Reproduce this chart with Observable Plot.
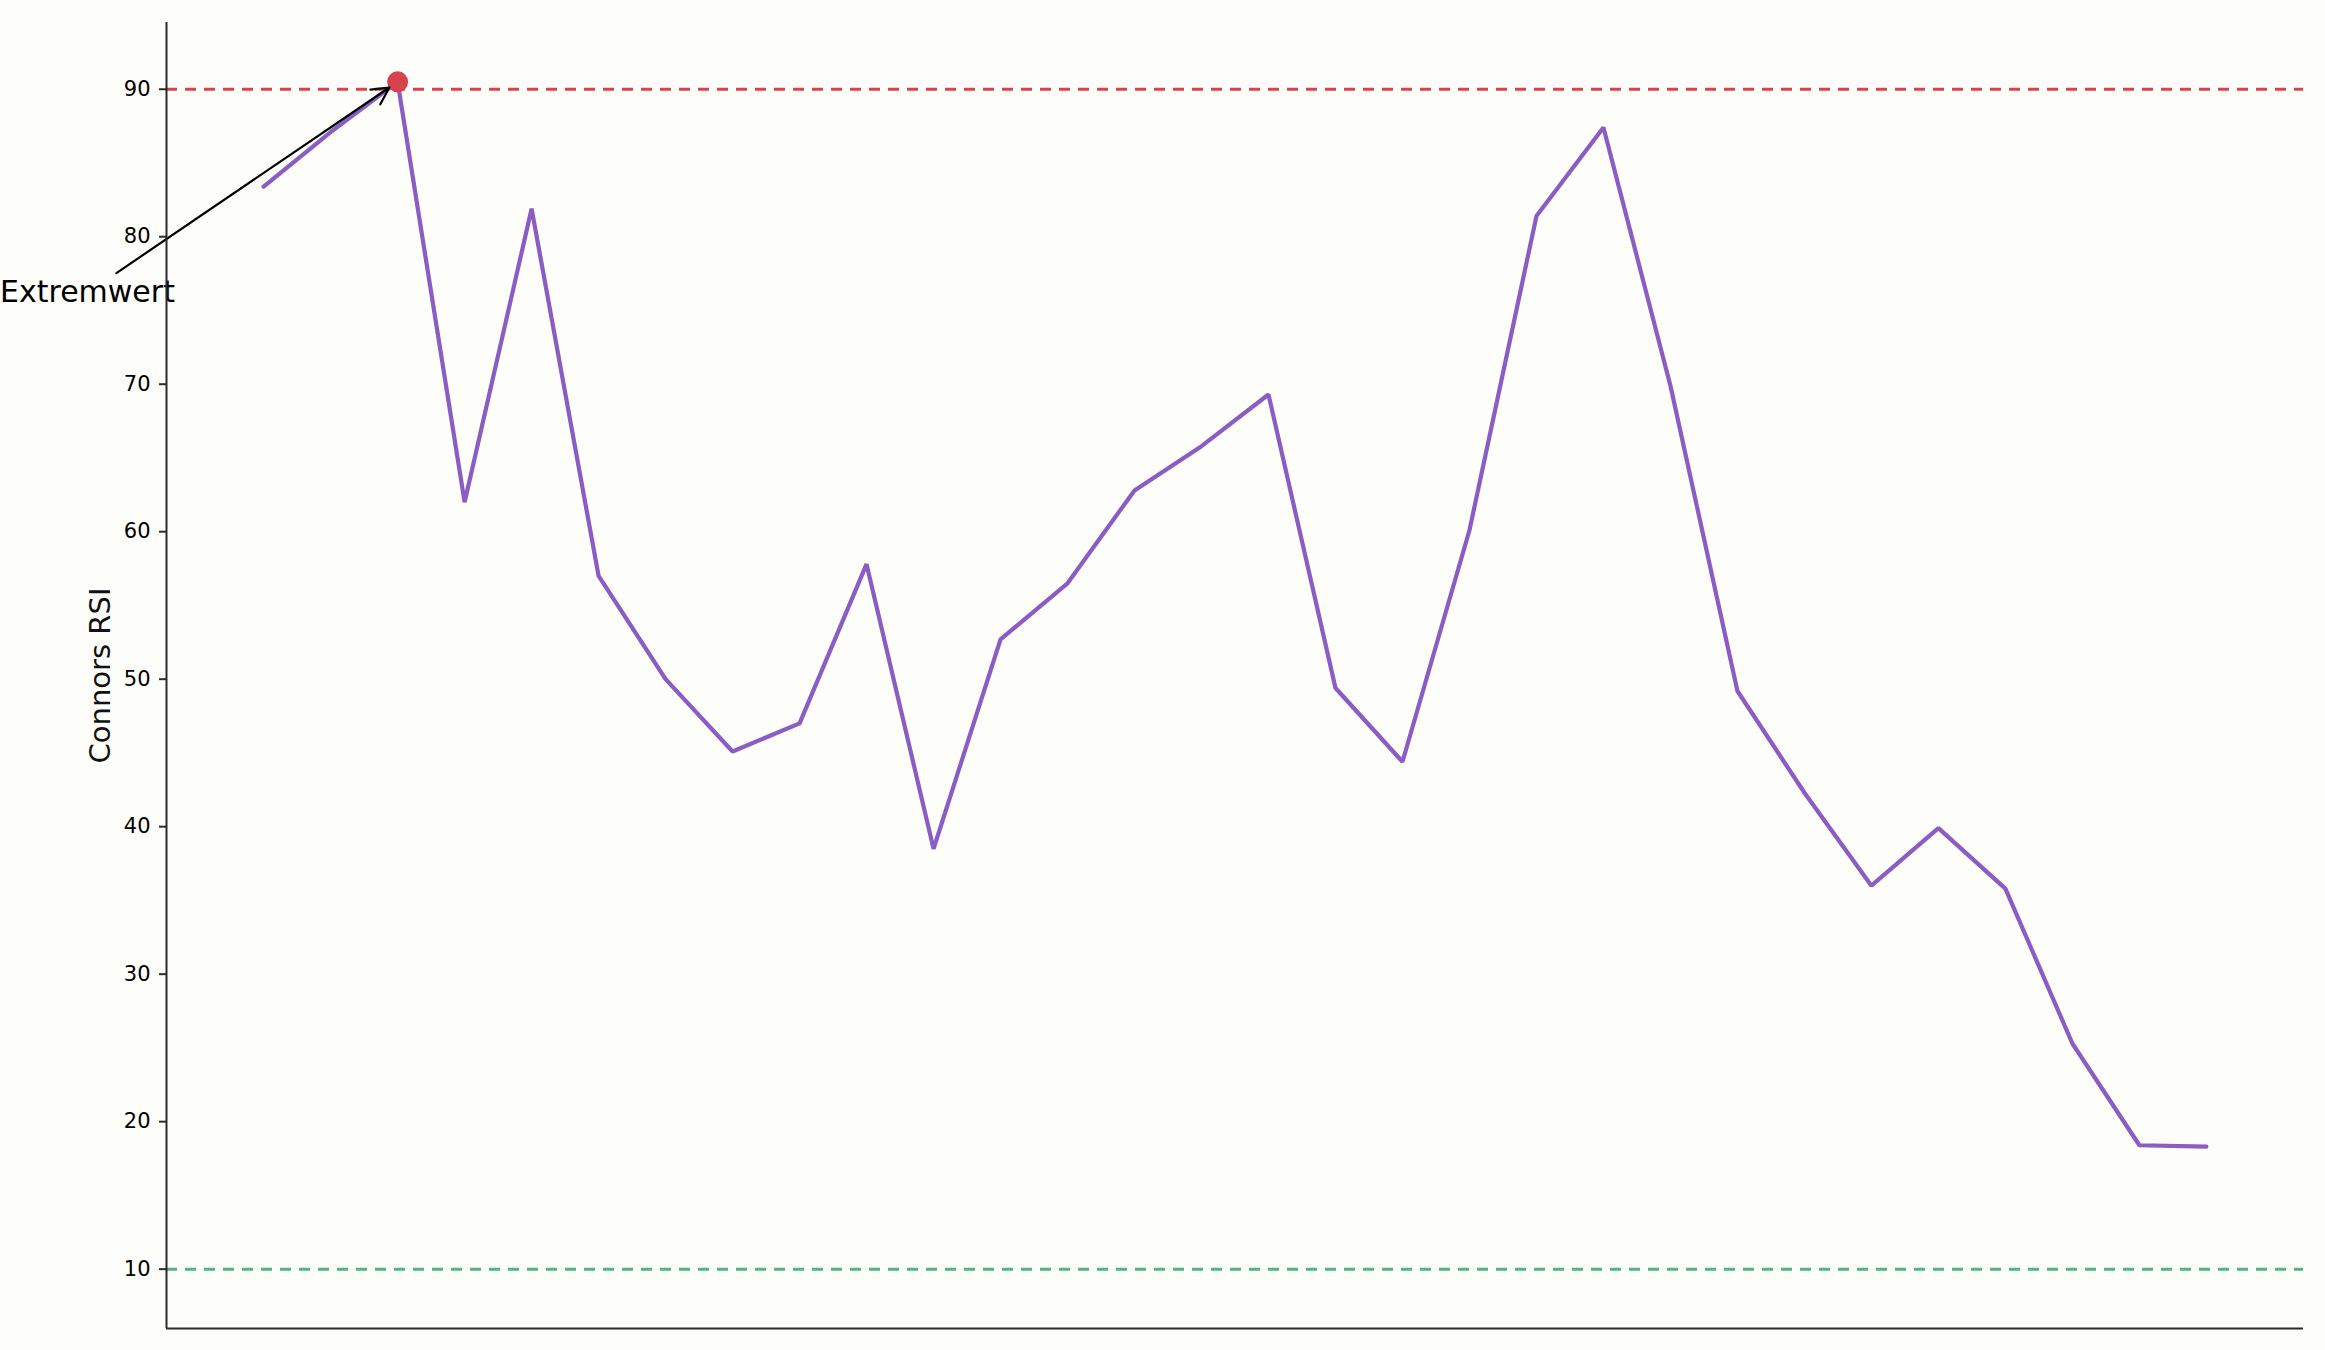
<!DOCTYPE html>
<html>
<head>
<meta charset="utf-8">
<script src="https://cdn.jsdelivr.net/npm/d3@7"></script>
<script src="https://cdn.jsdelivr.net/npm/@observablehq/plot@0.6"></script>
<style>
  html, body { margin: 0; padding: 0; background: #fdfdf9; }
  #chart svg { display: block; }
</style>
</head>
<body>
<div id="chart"></div>
<script>
// Connors RSI values (one per period)
const rsi = [83.4, 87.1, 90.5, 62.0, 81.9, 57.0, 50.0, 45.1, 47.0, 57.8,
             38.5, 52.7, 56.5, 62.8, 65.8, 69.3, 49.4, 44.4, 60.1, 81.4,
             87.4, 69.9, 49.2, 42.3, 36.0, 39.9, 35.8, 25.3, 18.4, 18.3];
const overbought = 90;
const oversold = 10;
const yTicks = [10, 20, 30, 40, 50, 60, 70, 80, 90];
const yLabel = "Connors RSI";
// annotation: arrow from text to the extreme value
const annotation = {label: "Extremwert", index: 2, textX: -2.63, textY: 76.2};

const data = rsi.map((v, i) => ({i, v}));
const extreme = data[annotation.index];

const n = rsi.length;
const xPad = (n - 1) * 0.05;
const yMin = Math.min(oversold, d3.min(rsi));
const yMax = Math.max(overbought, d3.max(rsi));
const yPad = (yMax - yMin) * 0.05;
const xDomain = [-xPad, n - 1 + xPad];
const yDomain = [yMin - yPad, yMax + yPad];

const font = "DejaVu Sans, Liberation Sans, sans-serif";

const chart = Plot.plot({
  width: 2325,
  height: 1350,
  marginLeft: 166,
  marginRight: 22,
  marginTop: 22,
  marginBottom: 22,
  style: {background: "#fdfdf9", fontFamily: font, color: "#111"},
  x: {domain: xDomain, axis: null},
  y: {domain: yDomain, axis: null},
  marks: [
    Plot.ruleY([overbought], {stroke: "#d9434f", strokeWidth: 3, strokeDasharray: "11,8"}),
    Plot.ruleY([oversold], {stroke: "#55b284", strokeWidth: 3, strokeDasharray: "11,8"}),
    Plot.line(data, {x: "i", y: "v", stroke: "#8a5cc4", strokeWidth: 4.2, strokeLinejoin: "miter"}),
    Plot.dot([extreme], {x: "i", y: "v", r: 10.5, fill: "#d6434f", stroke: "none"}),
    Plot.arrow([extreme], {
      x1: () => annotation.textX, y1: () => annotation.textY,
      x2: "i", y2: "v",
      stroke: "black", strokeWidth: 2.2, headLength: 13, headAngle: 55,
      insetStart: 35, insetEnd: 10
    }),
    Plot.text([annotation.label], {
      x: () => annotation.textX, y: () => annotation.textY,
      text: d => d, fontSize: 30, fill: "black", textAnchor: "middle", lineAnchor: "middle"
    }),
    Plot.axisY({ticks: yTicks, tickSize: 7, tickPadding: 9, fontSize: 21, label: null, stroke: "#2b2b2b", strokeWidth: 2, fill: "#000"}),
    Plot.ruleX([xDomain[0]], {stroke: "#2b2b2b", strokeWidth: 2}),
    Plot.ruleY([yDomain[0]], {stroke: "#2b2b2b", strokeWidth: 2}),
    Plot.text([yLabel], {frameAnchor: "left", dx: -66, rotate: -90, fontSize: 29, fill: "#111", text: d => d, lineAnchor: "middle", textAnchor: "middle"})
  ]
});
document.getElementById("chart").appendChild(chart);
</script>
</body>
</html>
